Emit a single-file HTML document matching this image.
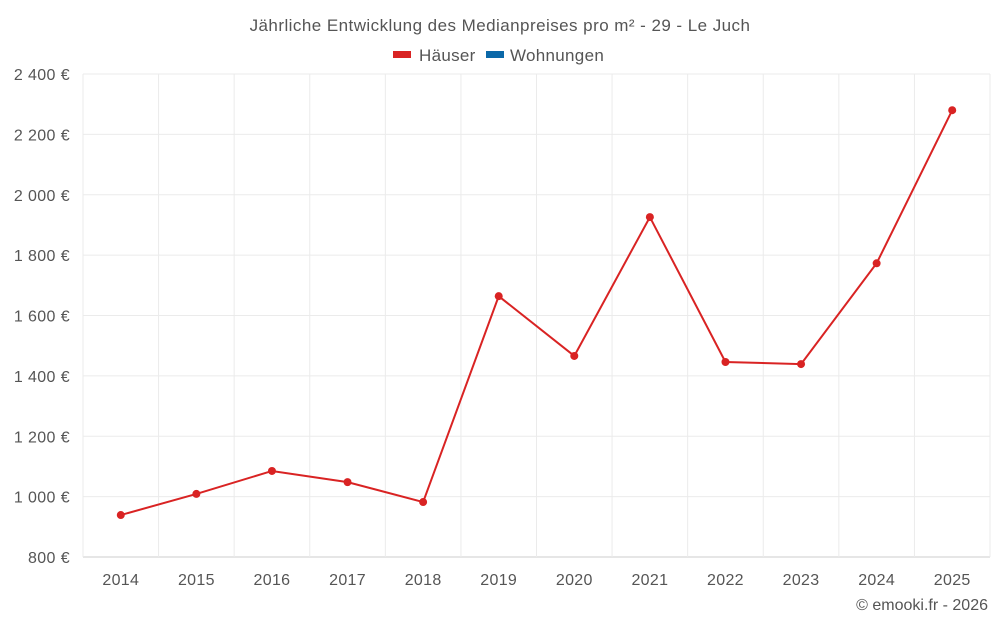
<!DOCTYPE html>
<html><head><meta charset="utf-8"><style>
body{margin:0;background:#fff;font-family:"Liberation Sans",sans-serif;}
svg text{font-family:"Liberation Sans",sans-serif;fill:#555;}
</style></head><body>
<svg id="chart" width="1000" height="625">
<text x="500" y="31" text-anchor="middle" font-size="17" letter-spacing="0.45">Jährliche Entwicklung des Medianpreises pro m² - 29 - Le Juch</text>
<g>
<g><rect x="393" y="51" width="18" height="7" fill="#d92323"/><text x="419" y="61" font-size="17" letter-spacing="0.3">Häuser</text></g>
<g><rect x="486" y="51" width="18" height="7" fill="#0b68a8"/><text x="510" y="61" font-size="17" letter-spacing="0.3">Wohnungen</text></g>
</g>
<g id="grid"></g><g id="axes"></g><g id="series"></g>
<text x="988" y="610" text-anchor="end" font-size="16">© emooki.fr - 2026</text>
</svg>
<script>
const years=[2014,2015,2016,2017,2018,2019,2020,2021,2022,2023,2024,2025];
const houses=[939,1009,1085,1048,982,1664,1466,1926,1446,1439,1773,2280];
const yTicks=[800,1000,1200,1400,1600,1800,2000,2200,2400];
const L=83,R=990,T=74,B=557,ymin=800,ymax=2400;
const ns="http://www.w3.org/2000/svg";
const bw=(R-L)/years.length;
const xs=i=>L+bw*(i+0.5);
const ys=v=>B-(v-ymin)/(ymax-ymin)*(B-T);
function mk(t,a,p){const e=document.createElementNS(ns,t);for(const k in a)e.setAttribute(k,a[k]);p.appendChild(e);return e;}
const g=document.getElementById('grid'),ax=document.getElementById('axes'),s=document.getElementById('series');
yTicks.forEach(v=>{
 const l=mk('line',{x1:L,x2:R,y1:ys(v),y2:ys(v),stroke:v===ymin?'#ccc':'#ebebeb'},g);
 
 
 const t=mk('text',{x:70,y:ys(v)+6,'text-anchor':'end','font-size':16,'letter-spacing':0.4},ax);
 t.textContent=String(v).replace(/\B(?=(\d{3})+$)/g,' ')+' €';
 
 
});
for(let i=0;i<=years.length;i++){
 const l=mk('line',{x1:L+bw*i,x2:L+bw*i,y1:T,y2:B,stroke:'#ebebeb'},g);
 
 
}
years.forEach((y,i)=>{
 const t=mk('text',{x:xs(i),y:585,'text-anchor':'middle','font-size':16,'letter-spacing':0.3},ax);
 t.textContent=y;
 
 
});
const pl=mk('polyline',{points:houses.map((v,i)=>xs(i)+','+ys(v)).join(' '),fill:'none',stroke:'#d92323','stroke-width':2},s);


houses.forEach((v,i)=>{
 const c=mk('circle',{cx:xs(i),cy:ys(v),r:4,fill:'#d92323'},s);
 
 
});
</script>
</body></html>
